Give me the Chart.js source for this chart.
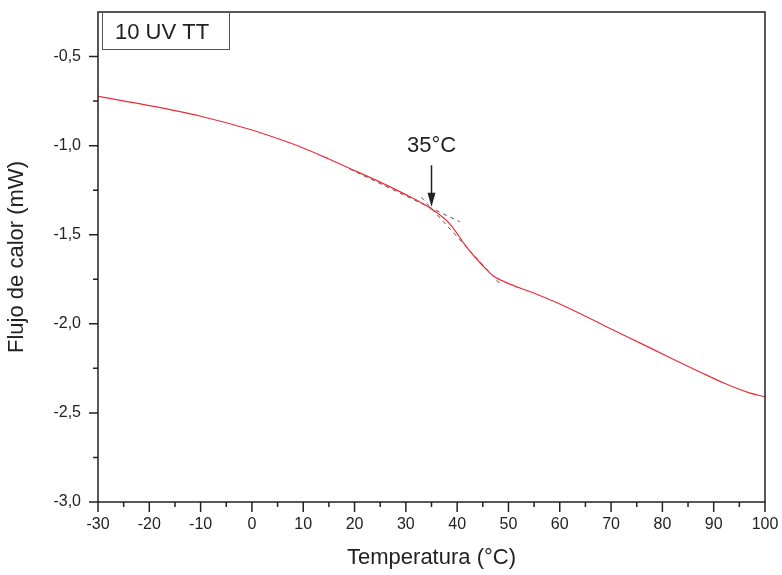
<!DOCTYPE html>
<html>
<head>
<meta charset="utf-8">
<script src="https://cdn.jsdelivr.net/npm/chart.js@4/dist/chart.umd.min.js"></script>
<style>
  body { margin: 0; background: #fff; }
  canvas { display: block; }
</style>
</head>
<body>
<canvas id="myChart" width="782" height="575"></canvas>
<script>
// DSC curve
const temperatura = [-30, -20, -10, 0, 5, 10, 15, 20, 25, 30, 33, 35, 38.6, 42, 45, 47, 49.7, 54.8, 62, 69, 75.6, 81.5, 87.3, 92.2, 96.7, 100]
const flujo = [-0.723, -0.775, -0.835, -0.912, -0.96, -1.013, -1.075, -1.14, -1.205, -1.275, -1.32, -1.355, -1.44, -1.575, -1.674, -1.73, -1.77, -1.826, -1.915, -2.015, -2.107, -2.19, -2.27, -2.335, -2.385, -2.41]

// dashed tangents used for the onset
const tangente1_x = [19, 40.5]
const tangente1_y = [-1.13, -1.427]
const tangente2_x = [33, 48.5]
const tangente2_y = [-1.29, -1.78]

// arrow at the onset temperature
const onset = 35
const flecha_y = [-1.11, -1.343]
const onset_label = '35°C'
const onset_label_y = -1.0

const xTicks = [-30, -20, -10, 0, 10, 20, 30, 40, 50, 60, 70, 80, 90, 100]
const yTicks = [-3.0, -2.5, -2.0, -1.5, -1.0, -0.5]
const muestra = '10 UV TT'

const tinta = '#222'
const fuente = '"Liberation Sans", Arial, sans-serif'

function pares(xs, ys) {
  let out = []
  for (let i = 0; i < xs.length; i++) out.push({x: xs[i], y: ys[i]})
  return out
}

const extras = {
  id: 'extras',
  afterDraw(chart) {
    const c = chart.ctx
    const a = chart.chartArea
    const xs = chart.scales.x
    const ys = chart.scales.y
    c.save()
    c.strokeStyle = tinta
    c.lineWidth = 1.5
    c.strokeRect(a.left, a.top, a.right - a.left, a.bottom - a.top)

    // major + minor ticks, outside
    c.beginPath()
    xs.ticks.forEach(t => {
      let px = xs.getPixelForValue(t.value)
      let major = xTicks.includes(t.value)
      c.moveTo(px, a.bottom)
      c.lineTo(px, a.bottom + (major ? 10 : 5))
    })
    ys.ticks.forEach(t => {
      if (t.value > -0.3) return
      let py = ys.getPixelForValue(t.value)
      let major = yTicks.some(v => Math.abs(v - t.value) < 1e-6)
      c.moveTo(a.left, py)
      c.lineTo(a.left - (major ? 9 : 5), py)
    })
    c.stroke()

    // arrow
    let ax = xs.getPixelForValue(onset)
    let y0 = ys.getPixelForValue(flecha_y[0])
    let y1 = ys.getPixelForValue(flecha_y[1])
    c.beginPath()
    c.moveTo(ax, y0)
    c.lineTo(ax, y1 - 10)
    c.stroke()
    c.fillStyle = tinta
    c.beginPath()
    c.moveTo(ax - 4, y1 - 14)
    c.lineTo(ax + 4, y1 - 14)
    c.lineTo(ax, y1)
    c.closePath()
    c.fill()

    c.font = '22px ' + fuente
    c.textAlign = 'center'
    c.textBaseline = 'middle'
    c.fillText(onset_label, ax, ys.getPixelForValue(onset_label_y))

    // sample box
    c.strokeStyle = '#555'
    c.lineWidth = 1
    c.strokeRect(102.5, 12.5, 127, 37)
    c.textAlign = 'left'
    c.textBaseline = 'alphabetic'
    c.fillStyle = tinta
    c.fillText(muestra, 115, 39)
    c.restore()
  }
}

const ctx = document.getElementById('myChart').getContext('2d')
const myChart = new Chart(ctx, {
  type: 'line',
  data: {
    datasets: [{
      data: pares(temperatura, flujo),
      borderColor: 'rgb(235, 45, 55)',
      borderWidth: 1.2,
      pointRadius: 0,
      cubicInterpolationMode: 'monotone',
      fill: false,
    }, {
      data: pares(tangente1_x, tangente1_y),
      borderColor: '#555',
      borderWidth: 1,
      borderDash: [4, 4],
      pointRadius: 0,
      fill: false,
    }, {
      data: pares(tangente2_x, tangente2_y),
      borderColor: '#555',
      borderWidth: 1,
      borderDash: [4, 4],
      pointRadius: 0,
      fill: false,
    }]
  },
  options: {
    responsive: false,
    animation: false,
    layout: { padding: { top: 12, right: 17, left: 0, bottom: 0 } },
    plugins: {
      legend: { display: false },
      tooltip: { enabled: false },
    },
    scales: {
      x: {
        type: 'linear',
        min: -30,
        max: 100,
        afterFit: s => { s.height = 73; s.paddingLeft = 0; s.paddingRight = 0 },
        grid: { display: false, drawTicks: false },
        border: { display: false },
        ticks: {
          stepSize: 5,
          autoSkip: false,
          maxRotation: 0,
          padding: 13,
          color: tinta,
          font: { family: fuente, size: 16 },
          callback: v => xTicks.includes(v) ? String(v) : '',
        },
        title: {
          display: true,
          text: 'Temperatura (°C)',
          color: tinta,
          font: { family: fuente, size: 22 },
          padding: { top: 0, bottom: 4 },
        }
      },
      y: {
        min: -3.0,
        max: -0.25,
        afterFit: s => { s.width = 98; s.paddingTop = 0; s.paddingBottom = 0 },
        grid: { display: false, drawTicks: false },
        border: { display: false },
        ticks: {
          stepSize: 0.25,
          autoSkip: false,
          padding: 17,
          color: tinta,
          font: { family: fuente, size: 16 },
          callback: v => yTicks.some(t => Math.abs(t - v) < 1e-6) ? v.toFixed(1).replace('.', ',') : '',
        },
        title: {
          display: true,
          text: 'Flujo de calor (mW)',
          color: tinta,
          font: { family: fuente, size: 22 },
          padding: { top: 4, bottom: 0 },
        }
      }
    }
  },
  plugins: [extras]
})
</script>
</body>
</html>
